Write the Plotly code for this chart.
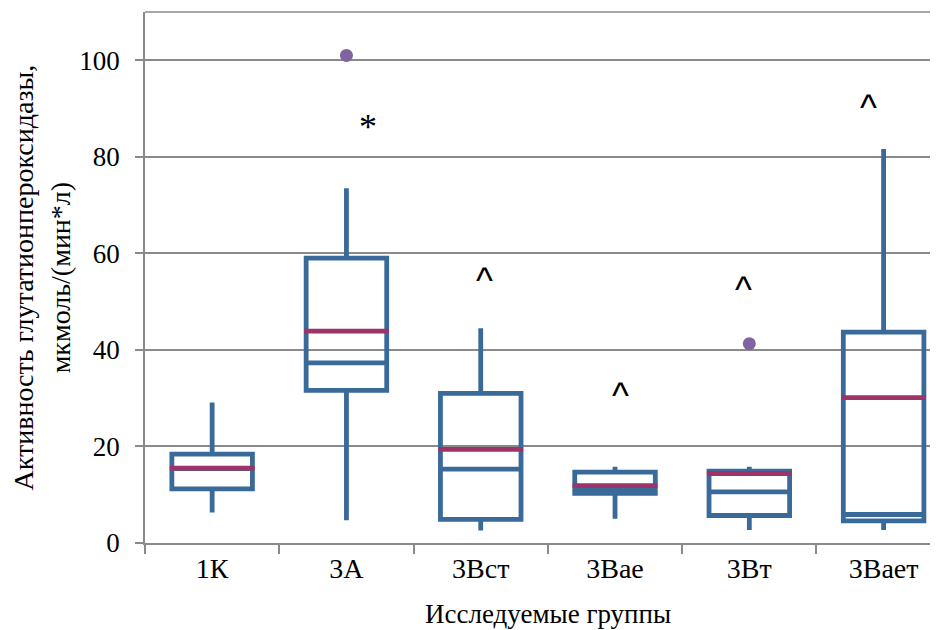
import plotly.graph_objects as go

# ---- data ----
groups = ["1К", "3А", "3Вст", "3Вае", "3Вт", "3Вает"]
q1 = [11.2, 31.6, 4.9, 10.3, 5.7, 4.6]
median = [15.4, 37.3, 15.3, 11.0, 10.6, 5.9]
q3 = [18.4, 59.0, 31.0, 14.7, 14.9, 43.7]
lower_whisker = [6.3, 4.7, 2.6, 5.0, 2.7, 2.7]
upper_whisker = [29.1, 73.5, 44.5, 15.8, 15.8, 81.6]
mean = [15.5, 43.9, 19.4, 11.9, 14.4, 30.1]
outlier_group = ["3А", "3Вт"]
outlier_value = [101.0, 41.3]
mark_group = ["3А", "3Вст", "3Вае", "3Вт", "3Вает"]
mark_text = ["*", "^", "^", "^", "^"]
mark_value = [87.2, 55.5, 31.6, 53.6, 91.3]
y_ticks = [0, 20, 40, 60, 80, 100]

# ---- style ----
BLUE = "#3A6A9A"
MEAN_C = "#9E3368"
PURPLE = "#8064A2"
GRID = "#8A8A8A"
SERIF = "Liberation Serif"
BOX_W = 0.6
mark_dx = [0.16, 0.03, 0.04, -0.04, -0.11]

pos = list(range(len(groups)))
idx = {g: i for i, g in enumerate(groups)}

fig = go.Figure()
fig.add_trace(go.Box(
    x=pos, q1=q1, median=median, q3=q3,
    lowerfence=lower_whisker, upperfence=upper_whisker,
    width=BOX_W, whiskerwidth=0, boxpoints=False,
    line=dict(color=BLUE, width=4.8), fillcolor="rgba(0,0,0,0)",
    showlegend=False,
))

mx, my = [], []
half = BOX_W / 2 + 0.016
for i, m in zip(pos, mean):
    mx += [i - half, i + half, None]
    my += [m, m, None]
fig.add_trace(go.Scatter(x=mx, y=my, mode="lines",
                         line=dict(color=MEAN_C, width=4.8), showlegend=False))

fig.add_trace(go.Scatter(x=[idx[g] for g in outlier_group], y=outlier_value,
                         mode="markers", marker=dict(color=PURPLE, size=13),
                         showlegend=False))

for g, t, v, dx in zip(mark_group, mark_text, mark_value, mark_dx):
    if t == "*":
        fnt = dict(family=SERIF, size=36, color="black")
    else:
        fnt = dict(family="Liberation Sans", size=36, color="black")
    fig.add_annotation(x=idx[g] + dx, y=v, text=t, showarrow=False,
                       font=fnt, xanchor="center", yanchor="middle", yshift=-5)

fig.add_annotation(x=2.5, xref="x", y=0, yref="paper", yshift=-71,
                   text="Исследуемые группы", showarrow=False,
                   font=dict(family=SERIF, size=27, color="black"),
                   xanchor="center", yanchor="middle")

fig.add_annotation(x=-0.1299, xref="paper", y=0.5, yref="paper",
                   text="Активность глутатионпероксидазы,<br>мкмоль/(мин*л)",
                   textangle=-90, showarrow=False,
                   font=dict(family=SERIF, size=28, color="black"),
                   xanchor="center", yanchor="middle")

fig.add_shape(type="line", xref="paper", yref="paper", x0=0, x1=1, y0=1, y1=1,
              line=dict(color=GRID, width=1.5))

fig.update_layout(
    width=930, height=622,
    margin=dict(l=137, r=0, t=4, b=87),
    plot_bgcolor="white", paper_bgcolor="white",
    showlegend=False,
    xaxis=dict(range=[-0.5, 5.405], tickvals=pos, ticktext=groups,
               ticks="", showline=True, linecolor=GRID, linewidth=1.5,
               showgrid=False, zeroline=False, automargin=False,
               tickfont=dict(family=SERIF, size=28, color="black"),
               minor=dict(tick0=-0.5, dtick=1, ticks="outside", ticklen=9,
                          tickcolor=GRID, tickwidth=1.5, showgrid=False)),
    yaxis=dict(range=[0, 110], tickvals=y_ticks, ticks="outside", ticklen=8,
               tickcolor=GRID, tickwidth=1.5, ticklabelstandoff=10,
               showline=True, linecolor=GRID, linewidth=1.5,
               showgrid=True, gridcolor=GRID, gridwidth=1.5, zeroline=False,
               automargin=False,
               tickfont=dict(family=SERIF, size=27, color="black")),
)

fig.write_html("out.html")
